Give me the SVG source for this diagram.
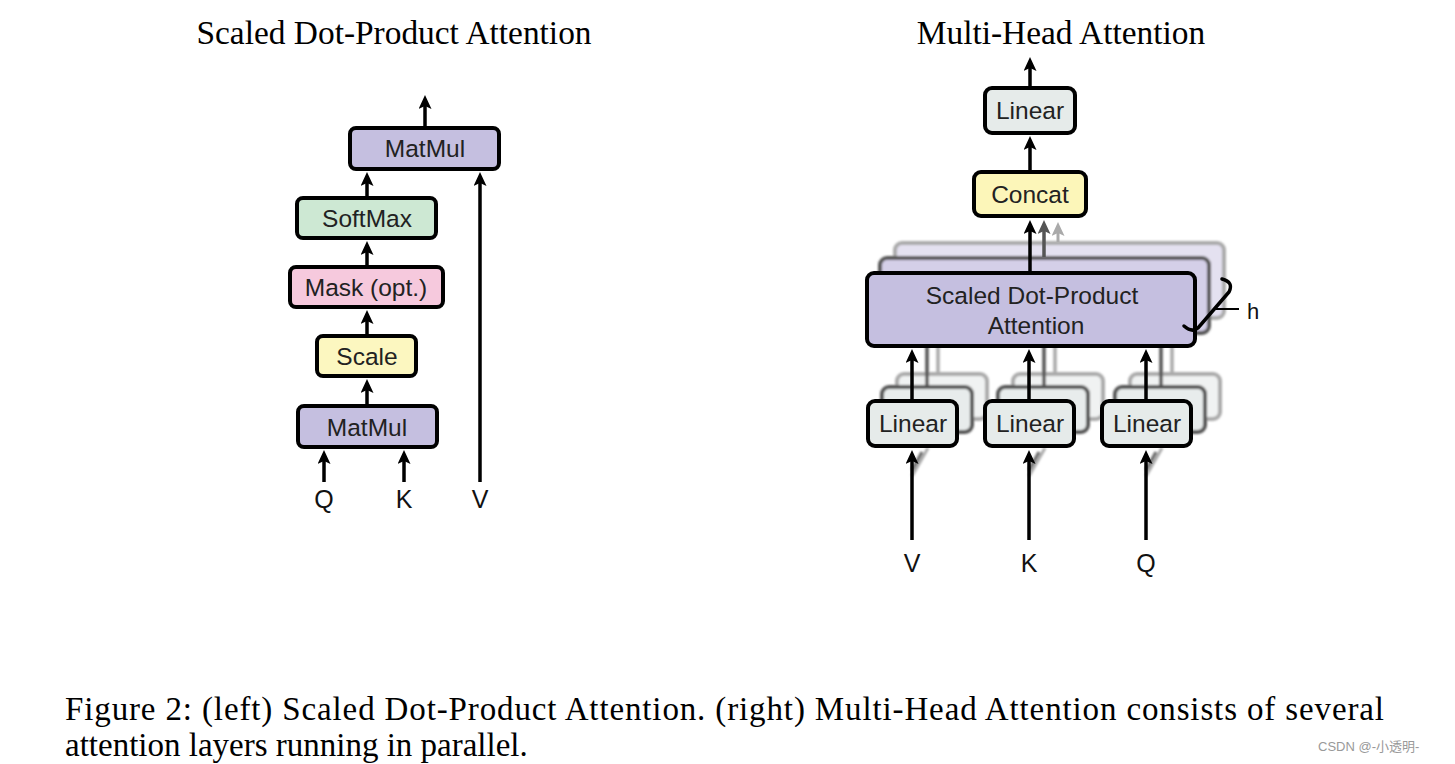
<svg xmlns="http://www.w3.org/2000/svg" width="1455" height="764" viewBox="0 0 1455 764">
<style>
.title{font-family:"Liberation Serif","Times New Roman",serif;font-size:33.4px;fill:#000}
.cap{font-family:"Liberation Serif","Times New Roman",serif;font-size:33px;fill:#000}
.lbl{font-family:"Liberation Sans",Arial,sans-serif;font-size:24.5px;fill:#222;text-anchor:middle}
.io{font-family:"Liberation Sans",Arial,sans-serif;font-size:25px;fill:#111;text-anchor:middle}
.box{stroke:#000;stroke-width:4}
.arr{stroke:#000;stroke-width:3.5;fill:none}
.matmul{fill:#c5bfe0}
.softmax{fill:#cde8d3}
.mask{fill:#f6c9dd}
.scale{fill:#fcf7c0}
.linear{fill:#e6ebea}
.concat{fill:#fcf6b9}
</style>
<defs>
<marker id="ah" markerUnits="userSpaceOnUse" markerWidth="15" markerHeight="13" refX="3" refY="6.5" orient="auto" viewBox="0 0 15 13">
<path d="M0,0 L14,6.5 L0,13 L3,6.5 Z" fill="#000"/>
</marker>
<marker id="ahd" markerUnits="userSpaceOnUse" markerWidth="15" markerHeight="13" refX="3" refY="6.5" orient="auto" viewBox="0 0 15 13">
<path d="M0,0 L14,6.5 L0,13 L3,6.5 Z" fill="#555"/>
</marker>
<marker id="ahl" markerUnits="userSpaceOnUse" markerWidth="15" markerHeight="13" refX="3" refY="6.5" orient="auto" viewBox="0 0 15 13">
<path d="M0,0 L14,6.5 L0,13 L3,6.5 Z" fill="#aaa"/>
</marker>
<filter id="blur" x="-10%" y="-10%" width="120%" height="120%">
<feGaussianBlur stdDeviation="1.2"/>
</filter>
</defs>
<rect width="1455" height="764" fill="#fff"/>

<text class="title" x="394" y="44" text-anchor="middle">Scaled Dot-Product Attention</text>
<text class="title" x="1061" y="44" text-anchor="middle">Multi-Head Attention</text>

<!-- LEFT: connectors -->
<g id="left-connectors">
<line class="arr" x1="425" y1="127" x2="425" y2="106" marker-end="url(#ah)"/>
<line class="arr" x1="367" y1="197" x2="367" y2="183" marker-end="url(#ah)"/>
<line class="arr" x1="367" y1="266" x2="367" y2="252" marker-end="url(#ah)"/>
<line class="arr" x1="367" y1="335" x2="367" y2="321" marker-end="url(#ah)"/>
<line class="arr" x1="367" y1="405" x2="367" y2="390" marker-end="url(#ah)"/>
<line class="arr" x1="324" y1="482" x2="324" y2="461" marker-end="url(#ah)"/>
<line class="arr" x1="404" y1="482" x2="404" y2="461" marker-end="url(#ah)"/>
<line class="arr" x1="480" y1="482" x2="480" y2="183" marker-end="url(#ah)"/>
</g>

<g id="l-matmul-top">
<rect class="box matmul" x="350" y="128" width="149" height="41" rx="6"/>
<text class="lbl" x="425" y="157">MatMul</text>
</g>
<g id="l-softmax">
<rect class="box softmax" x="297" y="198" width="139" height="40" rx="6"/>
<text class="lbl" x="367" y="227">SoftMax</text>
</g>
<g id="l-mask">
<rect class="box mask" x="290" y="267" width="153" height="40" rx="6"/>
<text class="lbl" x="366" y="296">Mask (opt.)</text>
</g>
<g id="l-scale">
<rect class="box scale" x="317" y="336" width="99" height="40" rx="6"/>
<text class="lbl" x="367" y="365">Scale</text>
</g>
<g id="l-matmul-bottom">
<rect class="box matmul" x="298" y="406" width="139" height="41" rx="6"/>
<text class="lbl" x="367" y="436">MatMul</text>
</g>
<g id="l-inputs">
<text class="io" x="324" y="508">Q</text>
<text class="io" x="404" y="508">K</text>
<text class="io" x="480" y="508">V</text>
</g>

<!-- RIGHT: shadow layers -->
<g id="r-shadows" filter="url(#blur)">
<rect x="895" y="243" width="329" height="75" rx="7" fill="#e4e1f0" stroke="#aaa" stroke-width="4"/>
<rect x="880" y="258" width="329" height="75" rx="7" fill="#d4cfe8" stroke="#555" stroke-width="4"/>
<rect x="897" y="374" width="90" height="45" rx="7" fill="#f0f2f2" stroke="#aaa" stroke-width="4"/>
<rect x="882" y="387" width="90" height="45" rx="7" fill="#e8ecec" stroke="#555" stroke-width="4"/>
<rect x="1013" y="374" width="90" height="45" rx="7" fill="#f0f2f2" stroke="#aaa" stroke-width="4"/>
<rect x="998" y="387" width="90" height="45" rx="7" fill="#e8ecec" stroke="#555" stroke-width="4"/>
<rect x="1130" y="374" width="90" height="45" rx="7" fill="#f0f2f2" stroke="#aaa" stroke-width="4"/>
<rect x="1115" y="387" width="90" height="45" rx="7" fill="#e8ecec" stroke="#555" stroke-width="4"/>
<line x1="938" y1="373" x2="938" y2="346" stroke="#aaa" stroke-width="3.5"/>
<line x1="927" y1="386" x2="927" y2="346" stroke="#555" stroke-width="3.5"/>
<line x1="1055" y1="373" x2="1055" y2="346" stroke="#aaa" stroke-width="3.5"/>
<line x1="1044" y1="386" x2="1044" y2="346" stroke="#555" stroke-width="3.5"/>
<line x1="1172" y1="373" x2="1172" y2="346" stroke="#aaa" stroke-width="3.5"/>
<line x1="1161" y1="386" x2="1161" y2="346" stroke="#555" stroke-width="3.5"/>
<line x1="912" y1="476" x2="928" y2="448" stroke="#aaa" stroke-width="3"/>
<line x1="912" y1="470" x2="922" y2="452" stroke="#666" stroke-width="3"/>
<line x1="1029" y1="476" x2="1045" y2="448" stroke="#aaa" stroke-width="3"/>
<line x1="1029" y1="470" x2="1039" y2="452" stroke="#666" stroke-width="3"/>
<line x1="1146" y1="476" x2="1162" y2="448" stroke="#aaa" stroke-width="3"/>
<line x1="1146" y1="470" x2="1156" y2="452" stroke="#666" stroke-width="3"/>
</g>

<!-- RIGHT: connectors -->
<g id="right-connectors">
<line class="arr" x1="1030" y1="86" x2="1030" y2="68" marker-end="url(#ah)"/>
<line class="arr" x1="1030" y1="171" x2="1030" y2="147" marker-end="url(#ah)"/>
<line class="arr" x1="1030" y1="271" x2="1030" y2="231" marker-end="url(#ah)"/>
<line x1="1044" y1="257" x2="1044" y2="231" stroke="#555" stroke-width="3.5" marker-end="url(#ahd)"/>
<line x1="1058" y1="242" x2="1058" y2="233" stroke="#aaa" stroke-width="3" marker-end="url(#ahl)"/>
<line class="arr" x1="912" y1="399" x2="912" y2="360" marker-end="url(#ah)"/>
<line class="arr" x1="1029" y1="399" x2="1029" y2="360" marker-end="url(#ah)"/>
<line class="arr" x1="1146" y1="399" x2="1146" y2="360" marker-end="url(#ah)"/>
<line class="arr" x1="912" y1="540" x2="912" y2="461" marker-end="url(#ah)"/>
<line class="arr" x1="1029" y1="540" x2="1029" y2="461" marker-end="url(#ah)"/>
<line class="arr" x1="1146" y1="540" x2="1146" y2="461" marker-end="url(#ah)"/>
</g>

<g id="r-linear-top">
<rect class="box linear" x="985" y="88" width="90" height="45" rx="7"/>
<text class="lbl" x="1030" y="119">Linear</text>
</g>
<g id="r-concat">
<rect class="box concat" x="974" y="172" width="112" height="44" rx="7"/>
<text class="lbl" x="1030" y="203">Concat</text>
</g>
<g id="r-sdpa">
<rect class="box matmul" x="867" y="273" width="328" height="73" rx="7"/>
<text class="lbl" x="1032" y="304">Scaled Dot-Product</text>
<text class="lbl" x="1036" y="334">Attention</text>
</g>
<g id="r-brace">
<path d="M1222,279 Q1234,282 1229,292 L1198,328 Q1192,333 1184,326" fill="none" stroke="#000" stroke-width="3.5" stroke-linecap="round"/>
<line x1="1216" y1="309" x2="1239" y2="309" stroke="#000" stroke-width="2"/>
<text x="1253" y="319" class="io" style="font-size:22px">h</text>
</g>
<g id="r-linear-v">
<rect class="box linear" x="868" y="401" width="89" height="45" rx="7"/>
<text class="lbl" x="913" y="432">Linear</text>
</g>
<g id="r-linear-k">
<rect class="box linear" x="985" y="401" width="89" height="45" rx="7"/>
<text class="lbl" x="1030" y="432">Linear</text>
</g>
<g id="r-linear-q">
<rect class="box linear" x="1102" y="401" width="89" height="45" rx="7"/>
<text class="lbl" x="1147" y="432">Linear</text>
</g>
<g id="r-inputs">
<text class="io" x="912" y="572">V</text>
<text class="io" x="1029" y="572">K</text>
<text class="io" x="1146" y="572">Q</text>
</g>

<g id="caption">
<text class="cap" x="65" y="720" textLength="1319" lengthAdjust="spacing">Figure 2: (left) Scaled Dot-Product Attention. (right) Multi-Head Attention consists of several</text>
<text class="cap" x="65" y="756">attention layers running in parallel.</text>
</g>
<text x="1318" y="751" style="font-family:'Liberation Sans','Noto Sans CJK SC',sans-serif;font-size:13px;fill:#999">CSDN @-小透明-</text>
</svg>
